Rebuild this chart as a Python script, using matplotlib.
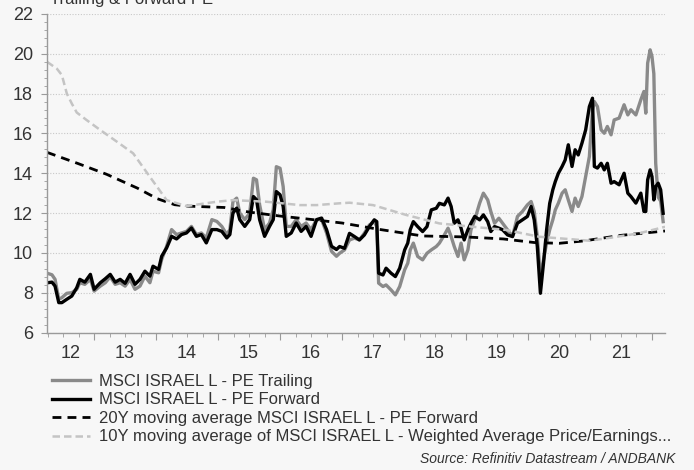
import matplotlib
matplotlib.use("Agg")
import matplotlib.pyplot as plt
from matplotlib.ticker import MultipleLocator, FixedLocator, NullFormatter

# ---------------- data ----------------
years = [2012.25, 2012.32, 2012.37, 2012.43, 2012.48, 2012.56, 2012.64, 2012.72, 2012.77, 2012.85,
         2012.94, 2013.00, 2013.10, 2013.18, 2013.26, 2013.34, 2013.42, 2013.50, 2013.58, 2013.66,
         2013.74, 2013.82, 2013.90, 2013.95, 2014.04, 2014.09, 2014.17, 2014.25, 2014.33, 2014.41,
         2014.49, 2014.57, 2014.65, 2014.73, 2014.81, 2014.90, 2014.98, 2015.06, 2015.14, 2015.19,
         2015.24, 2015.30, 2015.35, 2015.43, 2015.51, 2015.57, 2015.62, 2015.67, 2015.75, 2015.83,
         2015.89, 2015.94, 2016.00, 2016.05, 2016.10, 2016.18, 2016.26, 2016.34, 2016.42, 2016.50,
         2016.59, 2016.67, 2016.75, 2016.83, 2016.91, 2016.96, 2017.04, 2017.12, 2017.20, 2017.28,
         2017.36, 2017.44, 2017.52, 2017.56, 2017.59, 2017.66, 2017.71, 2017.79, 2017.86, 2017.93,
         2018.01, 2018.06, 2018.10, 2018.15, 2018.22, 2018.30, 2018.37, 2018.44, 2018.52, 2018.57,
         2018.65, 2018.71, 2018.76, 2018.81, 2018.87, 2018.92, 2018.97, 2019.03, 2019.08, 2019.14,
         2019.22, 2019.28, 2019.35, 2019.40, 2019.46, 2019.53, 2019.59, 2019.67, 2019.75, 2019.83,
         2019.91, 2019.99, 2020.05, 2020.10, 2020.15, 2020.20, 2020.25, 2020.30, 2020.35, 2020.40,
         2020.44, 2020.49, 2020.55, 2020.60, 2020.65, 2020.71, 2020.76, 2020.81, 2020.87, 2020.93,
         2020.99, 2021.04, 2021.07, 2021.12, 2021.18, 2021.23, 2021.28, 2021.34, 2021.39, 2021.47,
         2021.55, 2021.61, 2021.66, 2021.74, 2021.82, 2021.87, 2021.90, 2021.93, 2021.97, 2022.00,
         2022.03, 2022.06, 2022.10, 2022.14, 2022.18]

pe_forward = [8.50, 8.53, 8.33, 7.50, 7.50, 7.67, 7.83, 8.25, 8.67, 8.53,
              8.92, 8.17, 8.50, 8.70, 8.92, 8.53, 8.67, 8.47, 8.92, 8.42,
              8.67, 9.08, 8.83, 9.33, 9.17, 9.83, 10.25, 10.83, 10.70, 10.92,
              11.00, 11.25, 10.83, 10.92, 10.50, 11.17, 11.17, 11.08, 10.75, 10.92,
              12.00, 12.25, 11.67, 11.33, 11.67, 12.83, 12.67, 11.67, 10.83, 11.33,
              11.67, 13.08, 12.92, 12.33, 10.83, 11.00, 11.50, 11.08, 11.33, 10.83,
              11.67, 11.75, 11.17, 10.33, 10.17, 10.32, 10.23, 10.98, 10.82, 10.65,
              10.90, 11.32, 11.66, 11.57, 8.98, 8.89, 9.23, 8.98, 8.81, 9.23,
              10.15, 10.49, 11.16, 11.57, 11.32, 11.07, 11.32, 12.16, 12.24, 12.49,
              12.41, 12.75, 12.33, 11.49, 11.66, 11.24, 10.65, 11.16, 11.49, 11.83,
              11.66, 11.91, 11.57, 11.07, 11.32, 11.24, 11.16, 10.90, 10.82, 11.49,
              11.66, 11.83, 12.33, 11.66, 10.32, 7.97, 9.48, 11.16, 12.49, 13.17,
              13.58, 14.00, 14.34, 14.67, 15.43, 14.34, 15.18, 14.92, 15.51, 16.18,
              17.35, 17.77, 14.34, 14.26, 14.50, 14.17, 14.50, 13.50, 13.58, 13.42,
              14.00, 13.00, 12.83, 12.50, 13.00, 12.08, 12.08, 13.67, 14.17, 13.83,
              12.66, 13.33, 13.50, 13.17, 11.99]

pe_trailing = [8.97, 8.90, 8.67, 7.67, 7.75, 7.97, 8.00, 8.17, 8.50, 8.42,
               8.67, 8.08, 8.33, 8.50, 8.80, 8.42, 8.50, 8.33, 8.67, 8.17,
               8.33, 8.83, 8.50, 9.08, 9.00, 9.67, 10.33, 11.17, 10.92, 11.00,
               11.08, 11.33, 10.92, 11.00, 10.75, 11.67, 11.58, 11.33, 10.92, 11.17,
               12.58, 12.75, 12.00, 11.67, 12.00, 13.75, 13.67, 12.42, 11.17, 11.50,
               12.17, 14.33, 14.25, 13.33, 11.33, 11.33, 11.67, 11.33, 11.50, 11.17,
               11.67, 11.67, 11.00, 10.08, 9.83, 9.98, 10.15, 10.65, 10.74, 10.65,
               10.99, 11.40, 11.57, 11.32, 8.48, 8.31, 8.39, 8.14, 7.89, 8.31,
               9.15, 9.48, 10.15, 10.49, 9.82, 9.65, 9.98, 10.15, 10.32, 10.49,
               10.90, 11.24, 10.82, 10.32, 9.82, 10.49, 9.65, 10.15, 11.16, 11.66,
               12.50, 13.00, 12.66, 12.08, 11.49, 11.74, 11.49, 11.16, 10.82, 11.83,
               12.08, 12.41, 12.58, 12.08, 10.82, 8.81, 9.65, 10.49, 11.16, 11.66,
               12.16, 12.50, 13.00, 13.17, 12.66, 12.08, 12.75, 12.33, 12.83, 13.83,
               14.84, 17.19, 17.60, 17.35, 16.18, 16.01, 16.35, 15.93, 16.68, 16.77,
               17.44, 16.93, 17.19, 16.93, 17.69, 18.11, 17.02, 19.53, 20.20, 19.87,
               19.00, 14.50, 12.80, 12.60, 11.57]

ma20_years = [2012.24, 2012.73, 2013.20, 2013.70, 2014.02, 2014.30, 2014.50, 2015.10, 2015.50,
              2016.00, 2016.50, 2017.00, 2017.60, 2018.30, 2019.00, 2019.60, 2020.10, 2020.50,
              2020.90, 2021.50, 2022.21]
ma20_forward = [15.05, 14.50, 13.95, 13.25, 12.72, 12.42, 12.35, 12.28, 12.05,
                11.85, 11.68, 11.50, 11.18, 10.85, 10.80, 10.70, 10.52, 10.48,
                10.60, 10.88, 11.10]

ma10_years = [2012.24, 2012.40, 2012.48, 2012.56, 2012.64, 2012.72, 2012.88, 2013.10, 2013.37,
              2013.63, 2013.90, 2014.17, 2014.49, 2014.98, 2015.24, 2015.78, 2016.32, 2016.59,
              2016.96, 2017.12, 2017.50, 2018.04, 2018.57, 2019.11, 2019.65, 2020.18, 2020.72,
              2020.99, 2021.26, 2021.79, 2022.21]
ma10_pe = [19.60, 19.25, 18.93, 18.00, 17.50, 17.05, 16.67, 16.17, 15.58,
           15.00, 13.82, 12.65, 12.35, 12.57, 12.65, 12.57, 12.40, 12.40,
           12.49, 12.52, 12.40, 11.90, 11.48, 11.31, 11.15, 10.81, 10.68,
           10.61, 10.73, 10.98, 11.31]

year_labels = ['12', '13', '14', '15', '16', '17', '18', '19', '20', '21']

legend_labels = ['MSCI ISRAEL L - PE Trailing',
                 'MSCI ISRAEL L - PE Forward',
                 '20Y moving average MSCI ISRAEL L - PE Forward',
                 '10Y moving average of MSCI ISRAEL L - Weighted Average Price/Earnings...']

# ---------------- figure ----------------
BG = '#f7f7f7'
TXT = '#333333'
plt.rcParams['font.family'] = ['Liberation Sans', 'DejaVu Sans']

fig = plt.figure(figsize=(6.94, 4.70), dpi=100, facecolor=BG)
W, H = 694, 470
ax = fig.add_axes([47 / W, 1 - 332.5 / H, (665 - 47) / W, (332.5 - 14) / H])
ax.set_facecolor(BG)

l1, = ax.plot(years, pe_trailing, color='#8a8a8a', lw=2.4, solid_joinstyle='round')
l2, = ax.plot(years, pe_forward, color='#000000', lw=2.4, solid_joinstyle='round')
l3, = ax.plot(ma20_years, ma20_forward, color='#000000', lw=2.0, dashes=(3.2, 2.2))
l4, = ax.plot(ma10_years, ma10_pe, color='#c4c4c4', lw=1.8, dashes=(3.0, 1.6))

xmin, xmax = 2012.24, 2022.21
ax.set_xlim(xmin, xmax)
ax.set_ylim(6, 22)

for s in ['top', 'right']:
    ax.spines[s].set_visible(False)
for s in ['left', 'bottom']:
    ax.spines[s].set_color('#9a9a9a')
    ax.spines[s].set_linewidth(1.0)

ax.yaxis.set_major_locator(MultipleLocator(2))
ax.yaxis.set_minor_locator(MultipleLocator(0.4))
ax.tick_params(axis='y', which='major', length=4, color='#9a9a9a', labelsize=13,
               labelcolor=TXT, pad=6)
ax.tick_params(axis='y', which='minor', length=2, color='#9a9a9a')
ax.grid(axis='y', which='major', color='#c8c8c8', lw=0.8, ls=(0, (1, 1.5)))
ax.set_axisbelow(True)

ax.xaxis.set_major_locator(FixedLocator(list(range(2013, 2023))))
ax.xaxis.set_major_formatter(NullFormatter())
ax.xaxis.set_minor_locator(FixedLocator([y + q for y in range(2012, 2023) for q in (0.25, 0.5, 0.75)]))
ax.tick_params(axis='x', which='major', length=5, color='#9a9a9a')
ax.tick_params(axis='x', which='minor', length=3, color='#9a9a9a')

trans = ax.get_xaxis_transform()
for i, lab in enumerate(year_labels):
    y0 = 2012 + i
    a = max(y0, xmin)
    b = min(y0 + 1, xmax)
    ax.text((a + b) / 2, -0.065, lab, transform=trans, ha='center', va='center',
            fontsize=13, color=TXT)

fig.text(50 / W, 1 - 4 / H, 'Trailing & Forward PE', ha='left', va='baseline',
         fontsize=12, color=TXT)

leg = fig.legend([l1, l2, l3, l4], legend_labels, loc='upper left',
                 bbox_to_anchor=(52 / W, 1 - 374 / H), frameon=False,
                 fontsize=12, handlelength=2.3, handletextpad=0.5, labelspacing=0.21,
                 borderaxespad=0, borderpad=0)
for t in leg.get_texts():
    t.set_color(TXT)

fig.text(675 / W, 1 - 459 / H, 'Source: Refinitiv Datastream / ANDBANK', ha='right',
         va='center', fontsize=10, style='italic', color=TXT)

fig.savefig('out.png', dpi=100, facecolor=BG)
